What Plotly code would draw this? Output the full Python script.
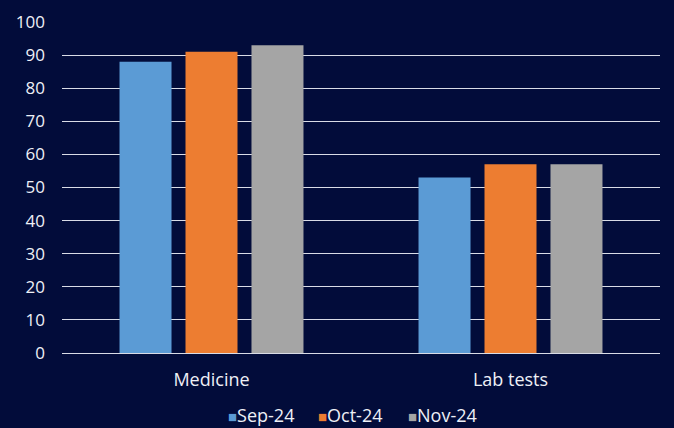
import plotly.graph_objects as go

categories = ["Medicine", "Lab tests"]
series_names = ["Sep-24", "Oct-24", "Nov-24"]
sep_values = [88, 53]
oct_values = [91, 57]
nov_values = [93, 57]
colors = ["#5b9bd5", "#ed7d31", "#a5a5a5"]
y_ticks = list(range(0, 101, 10))

fig = go.Figure()
for name, vals, col in zip(series_names, [sep_values, oct_values, nov_values], colors):
    fig.add_trace(go.Bar(x=categories, y=vals, name=name, showlegend=False,
                         marker=dict(color=col, line=dict(width=0))))

# compact legend like the original (colored square + label), one entry per series
legend_x = [0.275, 0.425, 0.575]
for n, c, lx in zip(series_names, colors, legend_x):
    fig.add_annotation(text=f"<span style='color:{c};font-size:15px'>■</span>{n}",
                       xref="paper", yref="paper", x=lx, y=-0.188,
                       xanchor="left", yanchor="middle", showarrow=False,
                       font=dict(size=18, color="#eef0f6"))

bg = "#020c3a"
fig.update_layout(
    width=674, height=428,
    paper_bgcolor=bg, plot_bgcolor=bg,
    margin=dict(l=62, r=14, t=22, b=75, autoexpand=False),
    barmode="group", bargap=0.338, bargroupgap=0.212,
    font=dict(family="Open Sans", color="#eef0f6", size=18),
    showlegend=False,
    xaxis=dict(showgrid=False, showline=False, ticks="", tickfont=dict(size=18), ticklabelstandoff=14),
    yaxis=dict(range=[0, 100], tickvals=y_ticks, showgrid=True, gridcolor="#d9dce6", gridwidth=1.2,
               zeroline=True, zerolinecolor="#d9dce6", zerolinewidth=1.2, ticks="", ticklabelstandoff=16,
               tickfont=dict(size=17)),
)
fig.write_html("out.html", config={"displayModeBar": False},
               post_script="document.body.style.margin='0';document.body.style.padding='0';")
